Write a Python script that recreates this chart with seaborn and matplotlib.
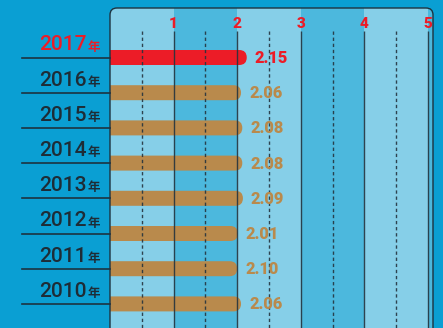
import matplotlib
matplotlib.use("Agg")
import matplotlib.pyplot as plt
import matplotlib.transforms as mtransforms
from matplotlib.patches import FancyBboxPatch
import seaborn as sns
import pandas as pd

# ---- data ----
years = ["2017", "2016", "2015", "2014", "2013", "2012", "2011", "2010"]
bar_values = [2.15, 2.06, 2.08, 2.08, 2.09, 2.01, 2.00, 2.06]
value_labels = ["2.15", "2.06", "2.08", "2.08", "2.09", "2.01", "2.10", "2.06"]
axis_ticks = [1, 2, 3, 4, 5]
year_suffix = "年"

# ---- style ----
RED = "#EC1C27"
BROWN = "#B98A4C"
DARK = "#1E2C36"
BG = "#0A9FD3"
LIGHT = "#86CFE8"
MED = "#4CB8DD"
bar_colors = [RED] + [BROWN] * (len(years) - 1)
label_colors = [RED] + [DARK] * (len(years) - 1)

plt.rcParams["font.family"] = ["Roboto", "DejaVu Sans"]

W, H = 443, 328
fig = plt.figure(figsize=(W / 100, H / 100), dpi=100, facecolor=BG)
ax_left, ax_right, ax_top = 110, 433, 8
ax = fig.add_axes([ax_left / W, 0, (ax_right - ax_left) / W, (H - ax_top) / H])
ax.set_facecolor("none")

df = pd.DataFrame({"year": years, "value": bar_values})
sns.barplot(data=df, x="value", y="year", hue="year", palette=bar_colors,
            orient="h", width=0.426, legend=False, saturation=1, ax=ax)

px_per_x = 63.6
px_per_y = 35.2
y0_px = 57.5
xmax = (ax_right - ax_left) / px_per_x
ytop = (ax_top - y0_px) / px_per_y
ybot = (H - y0_px) / px_per_y

# rounded bar ends
r = 7.5 / px_per_x
asp = px_per_x / px_per_y
for p in list(ax.patches):
    x0, yb, w, h = p.get_x(), p.get_y(), p.get_width(), p.get_height()
    fc = p.get_facecolor()
    p.remove()
    fb = FancyBboxPatch((x0 - 0.5, yb), w + 0.5, h,
                        boxstyle=f"round,pad=0,rounding_size={r}",
                        mutation_aspect=asp, fc=fc, ec="none", zorder=3)
    ax.add_patch(fb)

ax.set_xlim(0, xmax)
ax.set_ylim(ybot, ytop)
ax.set_xticks([])
ax.set_yticks([])
ax.set_xlabel("")
ax.set_ylabel("")
for s in ax.spines.values():
    s.set_visible(False)

# panel with rounded corner
rr = 7 / (ax_right - ax_left)
panel = FancyBboxPatch((0, -0.2), 1, 1.2, boxstyle=f"round,pad=0,rounding_size={rr}",
                       transform=ax.transAxes, fc="none", ec="#1D3340", lw=1.0,
                       clip_on=False, zorder=6)
ax.add_patch(panel)
edges = [0, 1, 2, 3, 4, 5, xmax]
for k in range(len(edges) - 1):
    band = ax.axvspan(edges[k], edges[k + 1], color=LIGHT if k % 2 == 0 else MED,
                      lw=0, zorder=0)
    band.set_clip_path(panel)

# grid lines
yline = (31 - y0_px) / px_per_y
ax.vlines(axis_ticks, yline, ybot, colors="#25343E", lw=1.0, zorder=4, alpha=0.9)
halves = [t - 0.5 for t in axis_ticks]
ax.vlines(halves, yline, ybot, colors="#25343E", lw=1.0, zorder=4, alpha=0.9,
          linestyles=(0, (2.4, 2.0)))

# top tick labels
top_tr = mtransforms.blended_transform_factory(ax.transData, ax.transAxes)
for t in axis_ticks:
    ax.text(t, (H - 28) / (H - ax_top), str(t), transform=top_tr, ha="center",
            va="baseline", color=RED, fontsize=11, fontweight="heavy", zorder=7)

# value labels
for i, (v, lab) in enumerate(zip(bar_values, value_labels)):
    ax.annotate(lab, xy=(v, i), xytext=(8, -5.5), textcoords="offset pixels",
                ha="left", va="baseline", color=bar_colors[i], fontsize=11.8,
                fontweight="heavy", zorder=7, annotation_clip=False)

# year labels and separator lines
ltr = mtransforms.blended_transform_factory(fig.transFigure, ax.transData)
for i, yr in enumerate(years):
    ax.plot([22 / W, ax_left / W], [i, i], transform=ltr, color="#1D3340",
            lw=1.2, clip_on=False, zorder=5)
    ax.text(87 / W, i - 7 / px_per_y, yr, transform=ltr, ha="right", va="baseline",
            color=label_colors[i], fontsize=15, fontweight="medium")
    ax.text(100.5 / W, i - 7 / px_per_y, year_suffix, transform=ltr, ha="right",
            va="baseline", color=label_colors[i], fontsize=9, fontweight="bold",
            family=["Noto Sans CJK SC", "DejaVu Sans"])

fig.savefig("out.png", dpi=100, facecolor=BG)
